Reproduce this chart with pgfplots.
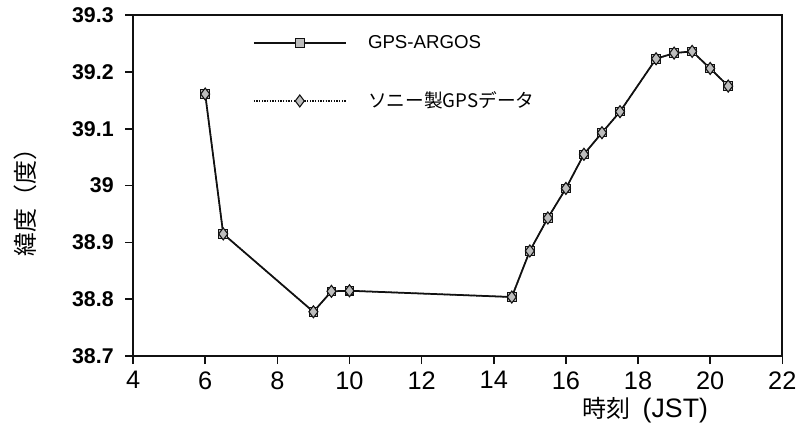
\documentclass[border=0pt]{standalone}
\usepackage{fontspec}
\setmainfont{Liberation Sans}
\newfontfamily\cjk{Noto Sans CJK JP}
\usepackage{xcolor}
\definecolor{markFill}{HTML}{BDBDBD}
\definecolor{ink}{HTML}{111111}
\usepackage{pgfplots}
\pgfplotsset{compat=1.18}
\usepackage{pgfplotstable}

% latitude track, both receivers
\pgfplotstableread{
t     lat
6.0   39.161
6.5   38.915
9.0   38.778
9.5   38.814
10.0  38.815
14.5  38.804
15.0  38.885
15.5  38.943
16.0  38.995
16.5  39.055
17.0  39.093
17.5  39.130
18.5  39.223
19.0  39.233
19.5  39.236
20.0  39.206
20.5  39.175
}\argos

\begin{document}
\begin{tikzpicture}
\begin{axis}[
  scale only axis,
  width=486.75pt, height=255.75pt,
  xmin=4, xmax=22, ymin=38.7, ymax=39.3,
  xtick={4,6,...,22},
  ytick={38.7,38.8,38.9,39,39.1,39.2,39.3},
  tick align=outside, tick pos=left,
  major tick length=6pt,
  axis line style={line width=1.6pt, color=ink},
  tick style={line width=1.2pt, color=ink},
  /pgf/number format/assume math mode=true,
  x tick label style={font=\fontsize{19}{19}\selectfont, yshift=-2pt},
  y tick label style={font=\fontsize{16}{16}\selectfont\bfseries, xshift=-5pt},
  xlabel={{\fontsize{18}{18}\selectfont\cjk 時刻}\hspace{0.45em}(JST)},
  xlabel style={font=\fontsize{20}{20}\selectfont,
                at={(axis description cs:0.789,-0.158)}, anchor=center},
  ylabel={\cjk 緯度（度）},
  ylabel style={font=\fontsize{18}{18}\selectfont,
                at={(axis description cs:-0.166,0.469)}, anchor=center},
  legend cell align=left,
  legend style={at={(axis description cs:0.178,0.956)}, anchor=north west,
                draw=none, fill=none, row sep=27pt,
                font=\fontsize{14}{14}\selectfont,
                /tikz/every odd column/.append style={column sep=14pt}},
  legend image code/.code={
    \draw[mark repeat=2, mark phase=2]
      plot coordinates {(0pt,0pt) (34.5pt,0pt) (69pt,0pt)};
  },
]
\addplot[color=ink, line width=1.3pt, mark=square*, mark size=3.2pt,
  mark options={fill=markFill, line width=0.8pt, solid}] table[x=t, y=lat] {\argos};
\addlegendentry{GPS-ARGOS}
\addplot[color=ink, line width=1pt, densely dotted, mark=diamond*, mark size=4.5pt,
  mark options={fill=markFill, line width=0.8pt, solid}] table[x=t, y=lat] {\argos};
\addlegendentry{\cjk ソニー製GPSデータ}
\end{axis}
\pgfresetboundingbox
\useasboundingbox (-99.75pt,-58.5pt) rectangle (500.75pt,267pt);
\end{tikzpicture}
\end{document}
